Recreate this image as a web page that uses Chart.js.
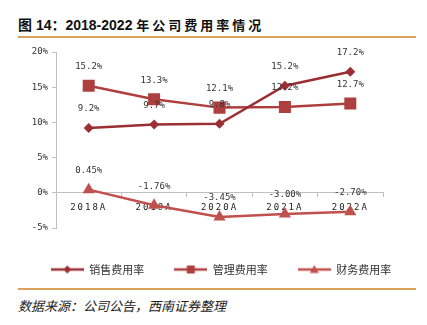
<!DOCTYPE html>
<html>
<head>
<meta charset="utf-8">
<script src="https://cdn.jsdelivr.net/npm/chart.js@4.4.0/dist/chart.umd.min.js"></script>
<style>
  body { margin: 0; width: 427px; height: 325px; background: #fff; position: relative; overflow: hidden; }
  #title { position: absolute; left: 18px; top: 14px; font: bold 14px "Liberation Sans", "Noto Sans CJK SC", sans-serif; color: #111; white-space: nowrap; }
  #title .cn { font-size: 13px; letter-spacing: 3px; }
  .rule { position: absolute; left: 18px; width: 398px; height: 1.5px; background: #d9a35e; }
  #src { position: absolute; left: 18px; top: 296px; font: italic 13px "Noto Sans CJK SC", sans-serif; color: #222; }
  #wrap { position: absolute; left: 0; top: 40px; width: 427px; height: 245px; }
</style>
</head>
<body>
<div id="title">图 14：2018-2022 <span class="cn">年公司费用率情况</span></div>
<div class="rule" style="top:36px"></div>
<div id="wrap"><canvas id="feeChart"></canvas></div>
<div class="rule" style="top:288px"></div>
<div id="src">数据来源：公司公告，西南证券整理</div>
<script>
// data
const years = ['2018A', '2019A', '2020A', '2021A', '2022A'];
const salesRate   = [9.2, 9.7, 9.8, 15.2, 17.2];
const adminRate   = [15.2, 13.3, 12.1, 12.2, 12.7];
const financeRate = [0.45, -1.76, -3.45, -3.00, -2.70];
const seriesNames = ['销售费用率', '管理费用率', '财务费用率'];
const yTicks = [-5, 0, 5, 10, 15, 20];

const colors = ['#9b2f33', '#ad403e', '#c0504d'];
const styles = ['rectRot', 'rect', 'triangle'];
const radii  = [5, 8.5, 7];
const decimals = [1, 1, 2];

// little line+marker icons for the legend
function legendIcon(i) {
  const c = document.createElement('canvas');
  c.width = 33; c.height = 12;
  const g = c.getContext('2d');
  g.strokeStyle = colors[i]; g.fillStyle = colors[i]; g.lineWidth = 2.5;
  g.beginPath(); g.moveTo(0, 6); g.lineTo(33, 6); g.stroke();
  g.beginPath();
  if (i === 0) { g.moveTo(16.5, 2); g.lineTo(20.5, 6); g.lineTo(16.5, 10); g.lineTo(12.5, 6); }
  else if (i === 1) { g.rect(12.5, 2, 8, 8); }
  else { g.moveTo(16.5, 1.5); g.lineTo(21, 9.5); g.lineTo(12, 9.5); }
  g.closePath(); g.fill();
  return c;
}

const valueLabels = {
  id: 'valueLabels',
  afterDatasetsDraw(chart) {
    const ctx = chart.ctx;
    ctx.save();
    ctx.font = '9px "DejaVu Sans Mono", monospace';
    ctx.fillStyle = '#333';
    ctx.textAlign = 'center';
    ctx.textBaseline = 'middle';
    chart.data.datasets.forEach((ds, i) => {
      chart.getDatasetMeta(i).data.forEach((pt, j) => {
        ctx.fillText(ds.data[j].toFixed(decimals[i]) + '%', pt.x, pt.y - 19);
      });
    });
    ctx.restore();
  }
};

// spaced-out x labels like the original
const spacedX = {
  id: 'spacedX',
  afterLayout(chart) {
    const x = chart.scales.x;
    if (x._spaced) return;
    const orig = x.drawLabels.bind(x);
    x.drawLabels = function (area) {
      chart.ctx.save();
      chart.ctx.letterSpacing = '2px';
      orig(area);
      chart.ctx.restore();
    };
    x._spaced = true;
  }
};

const datasets = [salesRate, adminRate, financeRate].map((d, i) => ({
  label: seriesNames[i],
  data: d,
  borderColor: colors[i],
  backgroundColor: colors[i],
  borderWidth: 2.5,
  pointStyle: styles[i],
  pointRadius: radii[i],
  pointHoverRadius: radii[i],
  pointBorderWidth: 0,
  tension: 0,
  fill: false
}));

new Chart(document.getElementById('feeChart'), {
  type: 'line',
  data: { labels: years, datasets },
  plugins: [valueLabels, spacedX],
  options: {
    responsive: true,
    maintainAspectRatio: false,
    animation: false,
    layout: { padding: { left: 15, top: 12, right: 0, bottom: 0 } },
    scales: {
      x: {
        position: { y: 0 },
        offset: true,
        grid: { display: true, drawOnChartArea: false, offset: true, tickLength: 4, color: '#bfbfbf' },
        border: { color: '#bfbfbf', width: 1 },
        ticks: { color: '#222', padding: 5, maxRotation: 0, autoSkip: false,
                 font: { family: '"DejaVu Sans Mono", monospace', size: 9 } }
      },
      y: {
        min: -5, max: 20,
        afterBuildTicks: s => { s.ticks = yTicks.map(v => ({ value: v })); },
        afterFit: s => { s.width = 41; },
        grid: { drawOnChartArea: false, tickLength: 4, color: '#bfbfbf' },
        border: { color: '#bfbfbf', width: 1 },
        ticks: { color: '#333', padding: 4, callback: v => v + '%',
                 font: { family: '"DejaVu Sans Mono", monospace', size: 9 } }
      },
      yPad: {
        position: 'right',
        afterFit: s => { s.width = 44; },
        grid: { display: false },
        border: { display: false },
        ticks: { display: false }
      },
      xPad: {
        type: 'category',
        position: 'bottom',
        afterFit: s => { s.height = 6; },
        grid: { display: false },
        border: { display: false },
        ticks: { display: false }
      }
    },
    plugins: {
      tooltip: { enabled: false },
      legend: {
        position: 'bottom',
        labels: {
          usePointStyle: true,
          pointStyleWidth: 33,
          padding: 30,
          color: '#333',
          font: { family: '"Noto Sans CJK SC", sans-serif', size: 11 },
          generateLabels: chart => chart.data.datasets.map((ds, i) => ({
            text: ds.label,
            pointStyle: legendIcon(i),
            fillStyle: colors[i],
            strokeStyle: colors[i],
            lineWidth: 0,
            datasetIndex: i,
            fontColor: '#333'
          }))
        }
      }
    }
  }
});
</script>
</body>
</html>
